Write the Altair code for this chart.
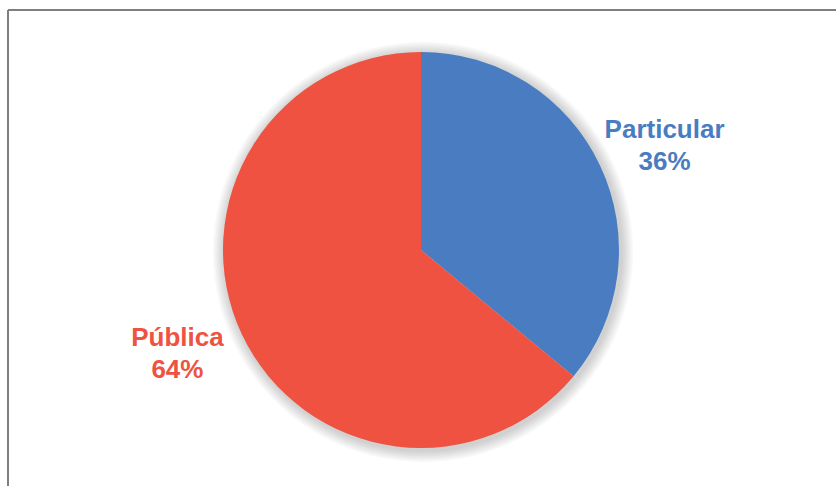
import altair as alt
import pandas as pd

categories = ["Particular", "Pública"]
values = [36, 64]
labels = ["Particular\n36%", "Pública\n64%"]
colors = ["#4a7cc1", "#ef5241"]

df = pd.DataFrame({"cat": categories, "val": values, "label": labels, "ord": [0, 1]})

color_scale = alt.Scale(domain=categories, range=colors)

base = alt.Chart(df).encode(
    theta=alt.Theta("val:Q", stack=True),
    order=alt.Order("ord:Q"),
)

shadows = []
for i, r in enumerate([200, 202, 204, 206, 208, 210]):
    shadows.append(
        alt.Chart(df).mark_arc(color="#000000", opacity=0.03, radius=r).encode(
            theta=alt.Theta("val:Q", stack=True),
            order=alt.Order("ord:Q"),
            x=alt.value(415 + 2),
            y=alt.value(236 + 2),
        )
    )

pie = base.mark_arc(radius=198, stroke=None).encode(
    color=alt.Color("cat:N", scale=color_scale, legend=None),
    x=alt.value(415),
    y=alt.value(236),
)

text = base.mark_text(
    radius=265, thetaOffset=0.035, dy=-16, font="Liberation Sans", fontSize=26, fontWeight="bold",
    lineBreak="\n", lineHeight=32, baseline="middle", align="center"
).encode(
    text="label:N",
    color=alt.Color("cat:N", scale=color_scale, legend=None),
    x=alt.value(415),
    y=alt.value(236),
)

border = alt.Chart(pd.DataFrame({"a": [0]})).mark_rule(color="#7f7f7f", strokeWidth=2)
left_line = border.encode(x=alt.value(2), y=alt.value(-4), y2=alt.value(480))
top_line = border.encode(x=alt.value(2), x2=alt.value(840), y=alt.value(-4))

chart = alt.layer(*shadows, pie, text, left_line, top_line).properties(
    width=830, height=472,
    autosize=alt.AutoSizeParams(type="none"),
    padding={"left": 6, "top": 14, "right": 0, "bottom": 0},
).configure_view(stroke=None)

chart.save("out.html", embed_options={"renderer": "svg", "actions": False})
